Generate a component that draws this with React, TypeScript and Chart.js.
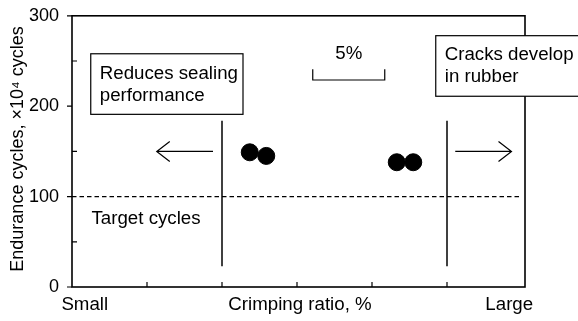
import React, { useEffect, useRef } from "react";
import { Chart, registerables } from "chart.js";

Chart.register(...registerables);

// ---- data ----
const pointX = [2.37, 2.59, 4.33, 4.55];
const pointY = [149, 145, 138, 138];
const limitX = [2, 5];
const limitYRange = [23, 184];
const targetY = 100;
const targetXRange = [0, 5.99];
const yMajorTicks = [0, 100, 200, 300];
const yMinorTicks = [50, 150, 250];
const xTicks = [1, 2, 3, 4, 5];
const xLabels = ["Small", "Crimping ratio, %", "Large"];
const xLabelPos = [0.17, 3.04, 5.83];
const yTitle = "Endurance cycles, \u00d710\u2074 cycles";

const FONT = "'Liberation Sans', Arial, Helvetica, sans-serif";
const FS = 18;
const FS_NOTE = 18.7;

const annotationPlugin = {
  id: "annots",
  afterDraw(chart: any) {
    const ctx = chart.ctx as CanvasRenderingContext2D;
    const xs = chart.scales.x;
    const ys = chart.scales.y;
    const a = chart.chartArea;
    const X = (v: number) => xs.getPixelForValue(v);
    const Y = (v: number) => ys.getPixelForValue(v);
    ctx.save();
    ctx.strokeStyle = "#000";
    ctx.fillStyle = "#000";
    ctx.lineWidth = 1.6;
    // frame
    ctx.strokeRect(a.left, a.top, a.right - a.left, a.bottom - a.top);
    // ticks
    ctx.lineWidth = 1.2;
    ctx.beginPath();
    for (const t of yMajorTicks) {
      ctx.moveTo(a.left - 5, Y(t));
      ctx.lineTo(a.left, Y(t));
    }
    for (const t of yMinorTicks) {
      ctx.moveTo(a.left, Y(t));
      ctx.lineTo(a.left + 5, Y(t));
    }
    for (const t of xTicks) {
      ctx.moveTo(X(t), a.bottom);
      ctx.lineTo(X(t), a.bottom - 5);
    }
    ctx.stroke();

    // arrows
    const ay = Y(150);
    ctx.beginPath();
    ctx.moveTo(X(1.88), ay);
    ctx.lineTo(X(1.13), ay);
    ctx.moveTo(X(1.13) + 13, ay - 10);
    ctx.lineTo(X(1.13), ay);
    ctx.lineTo(X(1.13) + 13, ay + 10);
    ctx.moveTo(X(5.11), ay);
    ctx.lineTo(X(5.86), ay);
    ctx.moveTo(X(5.86) - 13, ay - 10);
    ctx.lineTo(X(5.86), ay);
    ctx.lineTo(X(5.86) - 13, ay + 10);
    ctx.stroke();

    // 5% bracket
    ctx.beginPath();
    ctx.moveTo(X(3.21), Y(241));
    ctx.lineTo(X(3.21), Y(229));
    ctx.lineTo(X(4.17), Y(229));
    ctx.lineTo(X(4.17), Y(241));
    ctx.stroke();

    ctx.font = `${FS_NOTE}px ${FONT}`;
    ctx.textBaseline = "middle";
    ctx.textAlign = "center";
    ctx.fillText("5%", X(3.69), Y(258));

    // boxes
    const box = (x0: number, y0: number, x1: number, y1: number) => {
      ctx.fillStyle = "#fff";
      ctx.fillRect(x0, y0, x1 - x0, y1 - y0);
      ctx.strokeRect(x0, y0, x1 - x0, y1 - y0);
      ctx.fillStyle = "#000";
    };
    box(X(0.25), Y(258), X(2.28), Y(191));
    box(X(4.85), Y(278), X(6.8), Y(211));
    ctx.textAlign = "left";
    ctx.fillText("Reduces sealing", X(0.37), Y(236));
    ctx.fillText("performance", X(0.37), Y(211));
    ctx.fillText("Cracks develop", X(4.97), Y(257));
    ctx.fillText("in rubber", X(4.97), Y(232));
    ctx.fillText("Target cycles", X(0.26), Y(75));

    // x labels
    ctx.textAlign = "center";
    xLabels.forEach((l, i) => ctx.fillText(l, X(xLabelPos[i]), a.bottom + 18));

    // y title
    ctx.font = `${FS}px ${FONT}`;
    ctx.save();
    ctx.translate(18, 149);
    ctx.rotate(-Math.PI / 2);
    ctx.fillText(yTitle, 0, 0);
    ctx.restore();
    ctx.restore();
  },
};

export default function App() {
  const ref = useRef<HTMLCanvasElement>(null);
  useEffect(() => {
    document.body.style.margin = "0";
    const chart = new Chart(ref.current!, {
      type: "scatter",
      data: {
        datasets: [
          {
            label: "points",
            data: pointX.map((x, i) => ({ x, y: pointY[i] })),
            backgroundColor: "#000",
            borderColor: "#000",
            pointRadius: 8.5,
            pointHoverRadius: 8.5,
          },
          ...limitX.map((x) => ({
            label: "limit",
            type: "line" as const,
            data: limitYRange.map((y) => ({ x, y })),
            borderColor: "#000",
            borderWidth: 1.5,
            pointRadius: 0,
            showLine: true,
          })),
          {
            label: "target",
            type: "line" as const,
            data: targetXRange.map((x) => ({ x, y: targetY })),
            borderColor: "#000",
            borderWidth: 1.2,
            borderDash: [4.5, 3],
            pointRadius: 0,
            showLine: true,
          },
        ],
      },
      options: {
        animation: false,
        responsive: false,
        maintainAspectRatio: false,
        layout: { padding: { top: 15, right: 53, left: 0, bottom: 0 } },
        plugins: { legend: { display: false }, tooltip: { enabled: false } },
        scales: {
          x: {
            type: "linear",
            min: 0,
            max: 6.04,
            grid: { display: false },
            border: { display: false },
            ticks: { display: false },
            afterFit: (s: any) => {
              s.height = 34;
            },
          },
          y: {
            min: 0,
            max: 300,
            grid: { display: false },
            border: { display: false },
            ticks: {
              stepSize: 100,
              padding: 5,
              color: "#000",
              font: { family: FONT, size: FS },
            },
            afterFit: (s: any) => {
              s.width = 72;
            },
          },
        },
      },
      plugins: [annotationPlugin],
    });
    return () => chart.destroy();
  }, []);
  return (
    <div style={{ position: "absolute", left: 0, top: 0, width: 578, height: 321 }}>
      <canvas ref={ref} width={578} height={321} />
    </div>
  );
}
